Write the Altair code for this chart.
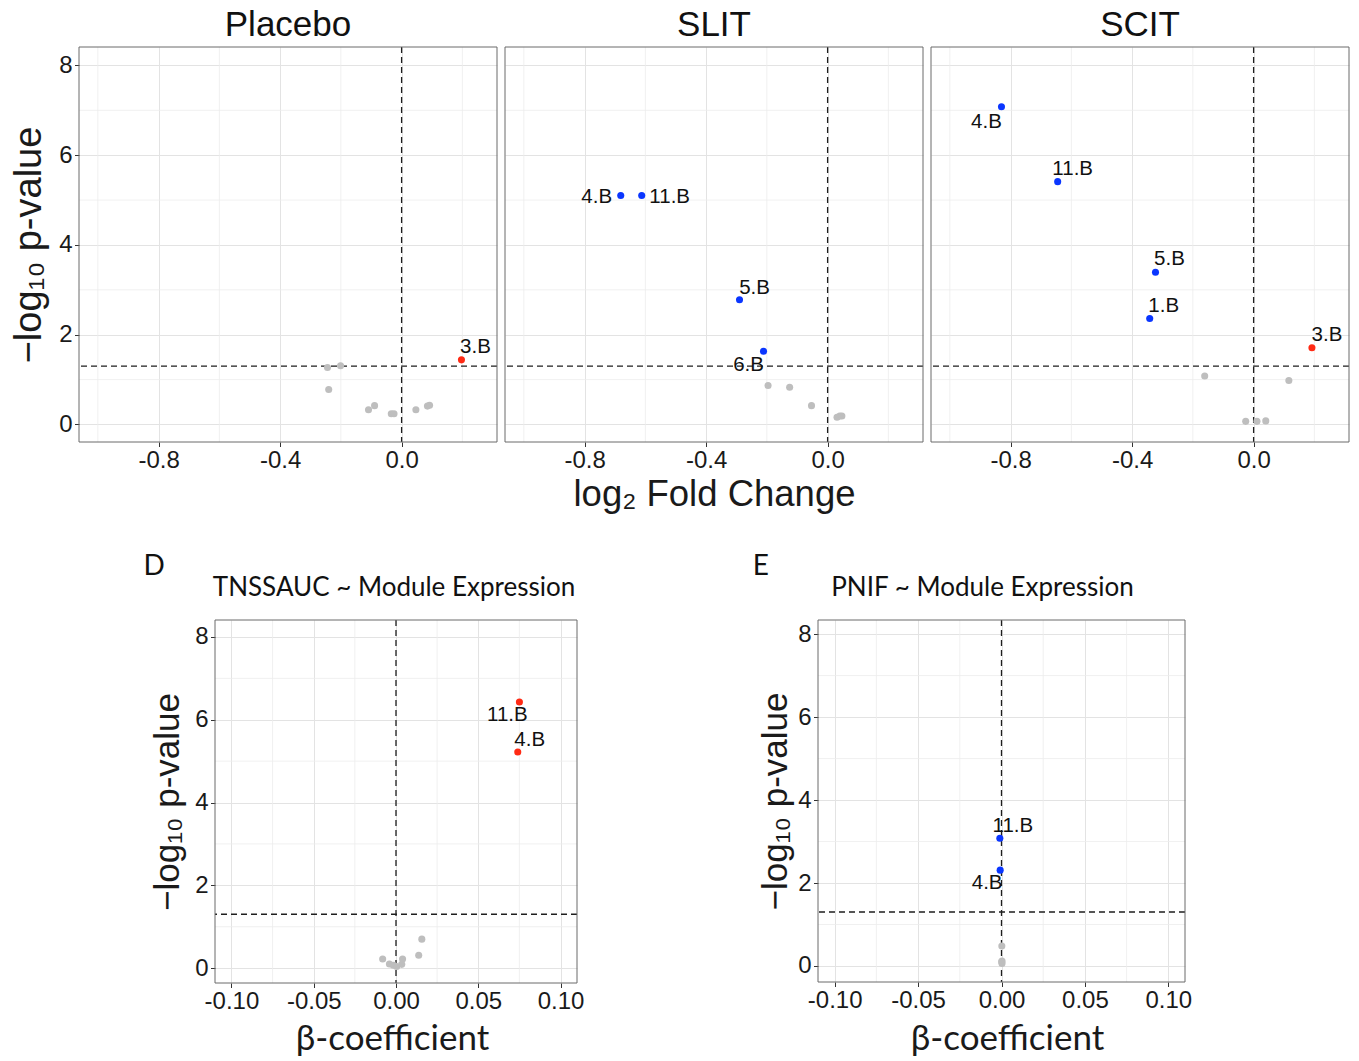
import altair as alt
import pandas as pd

# ---------------- data ----------------
placebo_module = ["", "", "", "", "", "", "", "", "", "", "3.B"]
placebo_fc = [-0.244, -0.201, -0.240, -0.109, -0.089, -0.034, -0.025, 0.047, 0.085, 0.092, 0.197]
placebo_logp = [1.27, 1.31, 0.78, 0.33, 0.42, 0.24, 0.24, 0.33, 0.41, 0.43, 1.44]
placebo_dir = ["ns", "ns", "ns", "ns", "ns", "ns", "ns", "ns", "ns", "ns", "up"]

slit_module = ["", "", "", "", "", "", "4.B", "11.B", "5.B", "6.B"]
slit_fc = [-0.196, -0.125, -0.053, 0.031, 0.040, 0.047, -0.681, -0.612, -0.290, -0.211]
slit_logp = [0.87, 0.83, 0.42, 0.16, 0.19, 0.19, 5.10, 5.10, 2.78, 1.63]
slit_dir = ["ns", "ns", "ns", "ns", "ns", "ns", "down", "down", "down", "down"]

scit_module = ["", "", "", "", "", "4.B", "11.B", "5.B", "1.B", "3.B"]
scit_fc = [-0.161, 0.116, -0.026, 0.011, 0.040, -0.830, -0.645, -0.323, -0.342, 0.192]
scit_logp = [1.08, 0.98, 0.07, 0.07, 0.08, 7.08, 5.41, 3.39, 2.36, 1.71]
scit_dir = ["ns", "ns", "ns", "ns", "ns", "down", "down", "down", "down", "up"]

tnss_module = ["", "", "", "", "", "", "", "", "11.B", "4.B"]
tnss_beta = [0.0157, 0.0138, -0.0081, 0.0040, -0.0040, -0.0016, 0.0004, 0.0035, 0.075, 0.074]
tnss_logp = [0.70, 0.31, 0.22, 0.22, 0.10, 0.07, 0.04, 0.09, 6.43, 5.22]
tnss_dir = ["ns", "ns", "ns", "ns", "ns", "ns", "ns", "ns", "up", "up"]

pnif_module = ["", "", "", "", "11.B", "4.B"]
pnif_beta = [0.0002, 0.0003, 0.0003, 0.0001, -0.0010, -0.0008]
pnif_logp = [0.48, 0.12, 0.06, 0.10, 3.08, 2.31]
pnif_dir = ["ns", "ns", "ns", "ns", "down", "down"]

top_titles = ["Placebo", "SLIT", "SCIT"]
top_xtitle = "log\u2082 Fold Change"
ytitle_text = "\u2212log\u2081\u2080 p-value"
beta_title = "\u03b2-coefficient"
panel_letters = ["D", "E"]
bottom_titles = ["TNSSAUC ~ Module Expression", "PNIF ~ Module Expression"]

top_xmajor = [-0.8, -0.4, 0.0]
top_xminor = [-1.0, -0.6, -0.2, 0.2]
bot_xmajor = [-0.10, -0.05, 0.0, 0.05, 0.10]
bot_xminor = [-0.075, -0.025, 0.025, 0.075]
ymajor = [0, 2, 4, 6, 8]
yminor = [1, 3, 5, 7]
P_THRESH = 1.301  # -log10(0.05)

# ---------------- styling ----------------
FONT = "Liberation Sans"
FONT2 = "Lato"
GRAY, BLUE, RED = "#bebebe", "#0a36ff", "#ff2a14"
GRID_MAJ, GRID_MIN = "#e3e3e3", "#ececec"
FRAME = "#6b6b6b"
TXT = "#1a1a1a"

LABEL_OFFSETS = {
    ("Placebo", "3.B"): (14, -13),
    ("SLIT", "4.B"): (-24, 1),
    ("SLIT", "11.B"): (28, 1),
    ("SLIT", "5.B"): (15, -12),
    ("SLIT", "6.B"): (-15, 14),
    ("SCIT", "4.B"): (-15, 15),
    ("SCIT", "11.B"): (15, -13),
    ("SCIT", "5.B"): (14, -13),
    ("SCIT", "1.B"): (14, -13),
    ("SCIT", "3.B"): (15, -13),
    ("D", "11.B"): (-12, 13),
    ("D", "4.B"): (12, -12),
    ("E", "11.B"): (13, -12),
    ("E", "4.B"): (-13, 13),
}


def frame(xs, ys, mods, dirs):
    return pd.DataFrame({"x": xs, "y": ys, "module": mods, "dir": dirs})


def pin(x1, x2, yv):
    return alt.Chart(pd.DataFrame({"a": [0]})).mark_rule(
        stroke="white", strokeOpacity=0
    ).encode(x=alt.value(x1), x2=alt.value(x2), y=alt.value(yv))


def text_at(txt, font, size, align, x, y):
    return alt.Chart(pd.DataFrame({"t": [txt]})).mark_text(
        font=font, fontSize=size, align=align, baseline="alphabetic", color="#111111"
    ).encode(text="t:N", x=alt.value(x), y=alt.value(y))


def panel(key, df, w, h, xdom, ydom, xmaj, xmin, xfmt, show_y, xtitle, ytitle,
          xt_pos, yt_pos, tick_fs, xtitle_font, xtitle_fs, ytitle_fs, extra):
    xs = alt.Scale(domain=xdom, nice=False, zero=False)
    ys = alt.Scale(domain=ydom, nice=False, zero=False)
    xa_kwargs = dict(
        values=xmaj,
        labelExpr=f"replace(format(datum.value, '{xfmt}'), '\u2212', '-')",
        tickSize=4.5, tickColor="#333333", tickWidth=1,
        labelFont=FONT, labelFontSize=tick_fs, labelColor=TXT, labelPadding=1.5,
        labelFlush=False, domain=False, grid=True, gridColor=GRID_MAJ, gridWidth=1,
    )
    if xtitle:
        xa_kwargs.update(title=xtitle, titleFont=xtitle_font, titleFontSize=xtitle_fs,
                         titleFontWeight="normal", titleColor=TXT,
                         titleX=xt_pos[0], titleY=xt_pos[1], titleBaseline="alphabetic",
                         titleAlign="center")
    else:
        xa_kwargs.update(title=None)
    xaxis = alt.Axis(**xa_kwargs)
    if show_y:
        yaxis = alt.Axis(values=ymajor, tickSize=4.5, tickColor="#333333", tickWidth=1,
                         labelFont=FONT, labelFontSize=tick_fs, labelColor=TXT,
                         labelPadding=2.5, domain=False, grid=True, gridColor=GRID_MAJ,
                         gridWidth=1, title=ytitle, titleFont=FONT, titleFontSize=ytitle_fs,
                         titleFontWeight="normal", titleColor=TXT, titleAngle=270,
                         titleX=yt_pos[0], titleY=yt_pos[1], titleBaseline="alphabetic",
                         titleAlign="center")
    else:
        yaxis = alt.Axis(values=ymajor, labels=False, ticks=False, domain=False,
                         grid=True, gridColor=GRID_MAJ, gridWidth=1, title=None)
    X = alt.X("x:Q", scale=xs, axis=xaxis)
    Y = alt.Y("y:Q", scale=ys, axis=yaxis)

    layers = [
        alt.Chart(pd.DataFrame({"x": xmin})).mark_rule(color=GRID_MIN, strokeWidth=0.8).encode(x=X),
        alt.Chart(pd.DataFrame({"y": yminor})).mark_rule(color=GRID_MIN, strokeWidth=0.8).encode(y=Y),
        alt.Chart(pd.DataFrame({"x": [0.0]})).mark_rule(
            color="#1e1e1e", strokeDash=[6, 4], strokeWidth=1.3).encode(x=X),
        alt.Chart(pd.DataFrame({"y": [P_THRESH]})).mark_rule(
            color="#1e1e1e", strokeDash=[6, 4], strokeWidth=1.3).encode(y=Y),
        alt.Chart(df).mark_circle(size=50, opacity=1).encode(
            x=X, y=Y,
            color=alt.Color("dir:N", scale=alt.Scale(domain=["ns", "down", "up"],
                                                      range=[GRAY, BLUE, RED]), legend=None)),
    ]
    for _, row in df[df["module"] != ""].iterrows():
        dx, dy = LABEL_OFFSETS[(key, row["module"])]
        layers.append(
            alt.Chart(pd.DataFrame([row])).mark_text(
                dx=dx, dy=dy, fontSize=20.5, font=FONT, color="#111111",
                align="center", baseline="middle").encode(x=X, y=Y, text="module:N"))
    # panel border
    layers.append(
        alt.Chart(pd.DataFrame({"a": [0]})).mark_rect(
            fillOpacity=0, stroke=FRAME, strokeWidth=1
        ).encode(x=alt.value(0), x2=alt.value(w), y=alt.value(0), y2=alt.value(h)))
    layers += extra
    return alt.layer(*layers).properties(width=w, height=h)


# ---------------- top row ----------------
TTOP = 46.5
TW, TH = 418, 395
TXD = [-1.062, 0.314]
TYD = [-0.39, 8.41]
top_data = {
    "Placebo": frame(placebo_fc, placebo_logp, placebo_module, placebo_dir),
    "SLIT": frame(slit_fc, slit_logp, slit_module, slit_dir),
    "SCIT": frame(scit_fc, scit_logp, scit_module, scit_dir),
}
top_panels = []
for i, name in enumerate(top_titles):
    extra = [
        pin(-78.5 if i == 0 else 0, -70 if i == 0 else 5, TH + 90),
        pin(0, 5, -TTOP),
        text_at(name, FONT, 35, "center", TW / 2, 35 - TTOP),
    ]
    p = panel(name, top_data[name], TW, TH, TXD, TYD, top_xmajor, top_xminor, ".1f",
              show_y=(i == 0), xtitle=(top_xtitle if i == 1 else None), ytitle=ytitle_text,
              xt_pos=(TW / 2, 63.5), yt_pos=(-39, TH / 2), tick_fs=24,
              xtitle_font=FONT, xtitle_fs=36.5, ytitle_fs=38, extra=extra)
    top_panels.append(p)
top_row = alt.hconcat(*top_panels, spacing=6)

# ---------------- bottom row ----------------
BTOP = 619  # common plot top of the bottom panels
DW, DH = 362, 363
EW, EH = 367, 362
BXD = [-0.11, 0.11]

BS = 20  # spacing in bottom row
SPW = 26  # spacer width
d_left = 214.5 - 78.5 - SPW - BS
d_right = DW + 40
e_left = 817 - 214.5 - d_right - BS


def header(letter, title, lx, tx):
    return [
        text_at(letter, FONT2, 28, "left", lx, 574 - BTOP),
        text_at(title, FONT2, 26, "center", tx, 595 - BTOP),
    ]


d_panel = panel("D", frame(tnss_beta, tnss_logp, tnss_module, tnss_dir), DW, DH, BXD,
                [-0.36, 8.41], bot_xmajor, bot_xminor, ".2f", show_y=True,
                xtitle=beta_title, ytitle=ytitle_text, xt_pos=(177, 1048 - BTOP - DH),
                yt_pos=(-36.5, DH / 2), tick_fs=24, xtitle_font=FONT2, xtitle_fs=35,
                ytitle_fs=35,
                extra=[pin(-d_left, d_right, -(BTOP - 539.5))]
                + header(panel_letters[0], bottom_titles[0], 143 - 214.5, 393.5 - 214.5))
e_panel = panel("E", frame(pnif_beta, pnif_logp, pnif_module, pnif_dir), EW, EH, BXD,
                [-0.386, 8.34], bot_xmajor, bot_xminor, ".2f", show_y=True,
                xtitle=beta_title, ytitle=ytitle_text, xt_pos=(189, 1048 - BTOP - EH),
                yt_pos=(-32, EH / 2), tick_fs=24, xtitle_font=FONT2, xtitle_fs=35,
                ytitle_fs=35,
                extra=[pin(-e_left, 10, -(BTOP - 539.5))]
                + header(panel_letters[1], bottom_titles[1], 751.7 - 817, 981.5 - 817))
spacer = alt.Chart(pd.DataFrame({"a": [0]})).mark_rule(
    stroke="white", strokeOpacity=0
).encode(x=alt.value(0), x2=alt.value(SPW), y=alt.value(0)).properties(width=SPW, height=10)

bottom_row = alt.hconcat(spacer, d_panel, e_panel, spacing=BS)

chart = alt.vconcat(top_row, bottom_row, spacing=8).properties(
    padding={"left": 0, "top": 0, "right": 2, "bottom": 2},
    background="white",
).configure_view(strokeOpacity=0)

chart.save("out.html", embed_options={"renderer": "svg", "actions": False})
